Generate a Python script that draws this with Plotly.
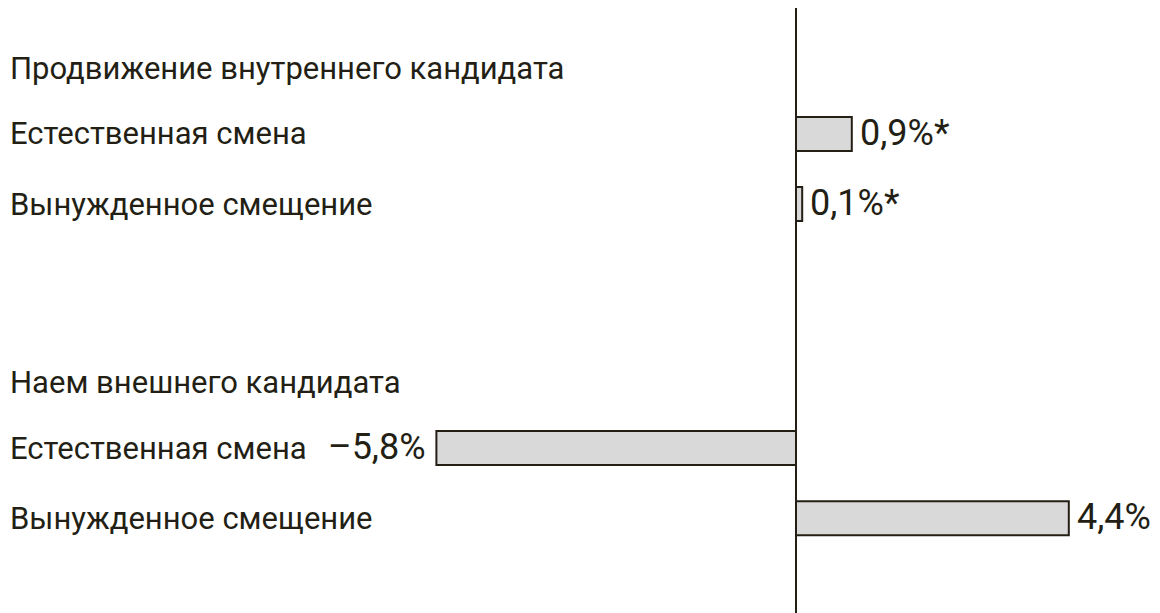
import plotly.graph_objects as go

# data
groups = ["Продвижение внутреннего кандидата", "Наем внешнего кандидата"]
row_labels = ["Естественная смена", "Вынужденное смещение"]
values = [[0.9, 0.1], [-5.8, 4.4]]
value_labels = [["0,9%*", "0,1%*"], ["–5,8%", "4,4%"]]

FONT = "Roboto, Arial, sans-serif"
INK = "#231f15"
W, H = 1160, 613
PAGE_OFFSET = 8  # default body margin of the html page

# vertical layout: one unit per row, extra gap between the groups
group_starts = [0, 4.62]
row_steps = [0.97, 2.0]

bar_y, bar_x = [], []
annotations = []
for g, start in enumerate(group_starts):
    annotations.append(dict(
        x=0, y=start, xref="paper", yref="y", text=groups[g],
        xanchor="left", yanchor="middle", showarrow=False,
        font=dict(family=FONT, size=31, color=INK),
    ))
    for i, lab in enumerate(row_labels):
        pos = start + row_steps[i]
        val = values[g][i]
        annotations.append(dict(
            x=0, y=pos, xref="paper", yref="y", text=lab,
            xanchor="left", yanchor="middle", showarrow=False,
            font=dict(family=FONT, size=31, color=INK),
        ))
        # value label next to the bar end
        annotations.append(dict(
            x=val, y=pos, xref="x", yref="y", text=value_labels[g][i],
            xanchor="left" if val >= 0 else "right", yanchor="middle",
            xshift=6 if val >= 0 else -8, yshift=1, showarrow=False,
            font=dict(family=FONT, size=36, color=INK),
        ))
        bar_y.append(pos)
        bar_x.append(val)

fig = go.Figure()
fig.add_trace(go.Bar(
    x=bar_x, y=bar_y, orientation="h", width=0.5,
    marker=dict(color="#d9d9d9", line=dict(color=INK, width=2)),
    hoverinfo="skip",
))

# zero line
fig.add_shape(type="line", x0=0, x1=0, xref="x", y0=0.0, y1=1, yref="paper",
              line=dict(color=INK, width=2))

px_per_unit_x = 62.0
zero_px = 796 - PAGE_OFFSET
px_per_unit_y = 68.0
top_px = 68 - PAGE_OFFSET

fig.update_xaxes(range=[-zero_px / px_per_unit_x, (W - zero_px) / px_per_unit_x],
                 visible=False, fixedrange=True)
fig.update_yaxes(range=[(H - top_px) / px_per_unit_y, -top_px / px_per_unit_y],
                 visible=False, fixedrange=True)

fig.update_layout(
    width=W, height=H,
    margin=dict(l=0, r=0, t=0, b=0),
    paper_bgcolor="white", plot_bgcolor="white",
    showlegend=False,
    annotations=annotations,
)

fig.write_html("out.html")
